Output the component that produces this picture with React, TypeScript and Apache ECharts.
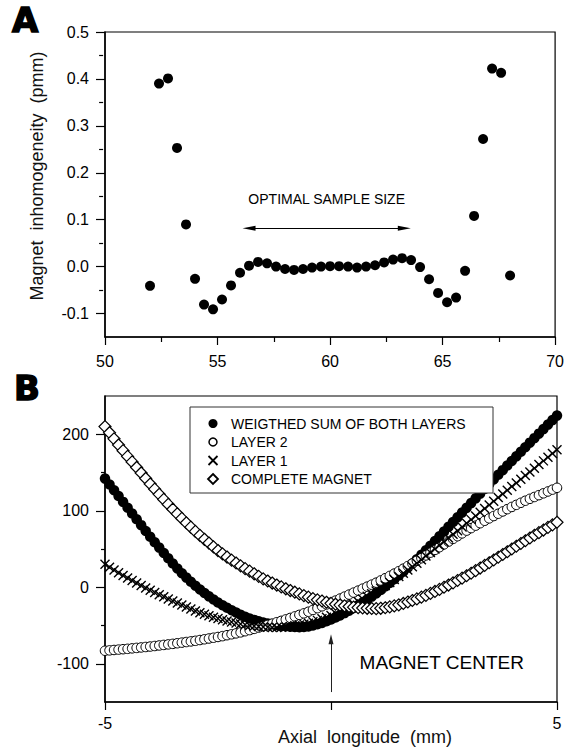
import React, { useEffect, useRef } from "react";
import * as echarts from "echarts";

const FONT = "'Liberation Sans', Arial, Helvetica, sans-serif";

// ---------- Panel A ----------
const posA = [
  52.0, 52.4, 52.8, 53.2, 53.6, 54.0, 54.4, 54.8, 55.2, 55.6, 56.0, 56.4, 56.8, 57.2,
  57.6, 58.0, 58.4, 58.8, 59.2, 59.6, 60.0, 60.4, 60.8, 61.2, 61.6, 62.0, 62.4, 62.8,
  63.2, 63.6, 64.0, 64.4, 64.8, 65.2, 65.6, 66.0, 66.4, 66.8, 67.2, 67.6, 68.0,
];
const inhomA = [
  -0.041, 0.39, 0.401, 0.253, 0.09, -0.026, -0.081, -0.091, -0.07, -0.04, -0.013, 0.002,
  0.01, 0.007, 0.0, -0.005, -0.007, -0.005, -0.002, 0.0, 0.001, 0.001, 0.0, -0.002, 0.0,
  0.003, 0.009, 0.015, 0.018, 0.014, -0.001, -0.027, -0.056, -0.076, -0.066, -0.009,
  0.108, 0.272, 0.422, 0.413, -0.019,
];
const ticksA = [-0.1, 0, 0.1, 0.2, 0.3, 0.4, 0.5];
const minorTicksA = [-0.05, 0.05, 0.15, 0.25, 0.35, 0.45];
const optimalRange = [56.4, 63.3];
const optimalY = 0.082;

// ---------- Panel B ----------
const posB = [
  -5.0, -4.9, -4.8, -4.7, -4.6, -4.5, -4.4, -4.3, -4.2, -4.1, -4.0, -3.9, -3.8, -3.7, -3.6,
  -3.5, -3.4, -3.3, -3.2, -3.1, -3.0, -2.9, -2.8, -2.7, -2.6, -2.5, -2.4, -2.3, -2.2, -2.1,
  -2.0, -1.9, -1.8, -1.7, -1.6, -1.5, -1.4, -1.3, -1.2, -1.1, -1.0, -0.9, -0.8, -0.7, -0.6,
  -0.5, -0.4, -0.3, -0.2, -0.1, 0.0, 0.1, 0.2, 0.3, 0.4, 0.5, 0.6, 0.7, 0.8, 0.9, 1.0, 1.1,
  1.2, 1.3, 1.4, 1.5, 1.6, 1.7, 1.8, 1.9, 2.0, 2.1, 2.2, 2.3, 2.4, 2.5, 2.6, 2.7, 2.8, 2.9,
  3.0, 3.1, 3.2, 3.3, 3.4, 3.5, 3.6, 3.7, 3.8, 3.9, 4.0, 4.1, 4.2, 4.3, 4.4, 4.5, 4.6, 4.7,
  4.8, 4.9, 5.0,
];
const weighted = [
  142, 134.4, 126.8, 119.2, 111.6, 104, 96.4, 88.8, 81.2, 73.6, 66, 58.8, 51.8, 44.8, 37.9,
  31, 24.6, 18.4, 12.6, 7.1, 2, -2.9, -7.5, -11.9, -16, -20, -23.5, -26.8, -30, -33.1, -36,
  -38.6, -40.8, -42.7, -44.5, -46, -47.3, -48.5, -49.5, -50.3, -51, -51.6, -52, -52.2,
  -51.9, -51.2, -50, -48.4, -46.6, -44.5, -42.2, -39.6, -36.8, -33.8, -30.6, -27.2, -23.7,
  -20, -16.2, -12.2, -8, -3.6, 0.9, 5.6, 10.4, 15.3, 20.4, 25.7, 31.1, 36.7, 42.4, 48.3,
  54.3, 60.4, 66.6, 72.8, 79, 85.2, 91.4, 97.6, 103.8, 110, 116.2, 122.4, 128.6, 134.8,
  140.9, 147, 153.1, 159.1, 165.1, 171.1, 177.1, 183.1, 189, 194.9, 200.8, 206.7, 212.6,
  218.5, 224.4,
];
const layer2 = [
  -83, -82.5, -82, -81.5, -81, -80.5, -79.9, -79.3, -78.7, -78.1, -77.5, -76.8, -76.1,
  -75.4, -74.7, -74, -73.2, -72.4, -71.6, -70.8, -70, -69, -68, -67, -66, -65, -63.9,
  -62.7, -61.5, -60.3, -59, -57.5, -56, -54.4, -52.7, -51, -49.3, -47.5, -45.7, -43.9, -42,
  -40.1, -38.1, -36.1, -34.1, -32, -29.7, -27.3, -24.9, -22.5, -20, -17.4, -14.8, -12.2,
  -9.6, -7, -4.4, -1.8, 0.8, 3.4, 6, 8.9, 11.8, 14.8, 17.9, 21, 24.3, 27.7, 31.1, 34.5, 38,
  41.6, 45.2, 48.8, 52.4, 56, 59.6, 63.2, 66.8, 70.4, 74, 77.3, 80.5, 83.7, 86.9, 90, 93.1,
  96.1, 99.1, 102.1, 105, 107.7, 110.4, 113.1, 115.6, 118, 120.4, 122.8, 125.2, 127.6, 130,
];
const layer1 = [
  30, 26.3, 22.6, 19, 15.5, 12, 8.7, 5.4, 2.2, -0.9, -4, -6.9, -9.7, -12.5, -15.3, -18,
  -20.7, -23.3, -25.9, -28.5, -31, -33.2, -35.3, -37.3, -39.2, -41, -42.6, -44.1, -45.5,
  -46.8, -48, -49.1, -50, -50.8, -51.4, -52, -52.4, -52.6, -52.6, -52.4, -52, -51.3, -50.4,
  -49.3, -48.2, -47, -45.2, -43.3, -41.3, -39.2, -37, -34.1, -31.1, -28.1, -25.1, -22,
  -18.7, -15.3, -11.9, -8.5, -5, -1.3, 2.4, 6.2, 10.1, 14, 18.2, 22.5, 26.9, 31.4, 36,
  40.7, 45.3, 50, 54.8, 59.6, 64.4, 69.2, 74, 78.8, 83.6, 88.4, 93.2, 98, 102.8, 107.6,
  112.4, 117.2, 122, 126.8, 131.6, 136.4, 141.2, 146, 150.8, 155.6, 160.4, 165.2, 170,
  174.8, 179.6,
];
const complete = [
  210, 202, 194, 186, 178.5, 171, 163.8, 156.6, 149.4, 142.2, 135, 128.2, 121.5, 114.8,
  108.3, 102, 96, 90, 84.2, 78.5, 73, 67.8, 62.7, 57.8, 52.8, 48, 43.7, 39.5, 35.5, 31.7,
  28, 24.4, 21, 17.6, 14.3, 11, 8.2, 5.5, 2.9, 0.4, -2, -4.3, -6.5, -8.7, -10.9, -13, -14.8,
  -16.5, -18, -19.6, -21, -22.2, -23.3, -24.3, -25.2, -26, -26.6, -27.1, -27.5, -27.8, -28,
  -27.5, -26.8, -25.6, -24.4, -23, -21.2, -19.3, -17.3, -15.2, -13, -10.6, -8.1, -5.5,
  -2.8, 0, 2.9, 5.8, 8.8, 11.9, 15, 18.3, 21.7, 25.1, 28.5, 32, 35.6, 39.2, 42.8, 46.4, 50,
  53.6, 57.2, 60.8, 64.4, 68, 71.4, 74.8, 78.2, 81.6, 85,
];
const ticksB = [-100, 0, 100, 200];
const minorTicksB = [-50, 50, 150];
const centerArrow = [-137, -68];
const centerLabel = [2.45, -98];

const legendNames = [
  "WEIGTHED SUM OF BOTH LAYERS",
  "LAYER 2",
  "LAYER 1",
  "COMPLETE MAGNET",
];

const zip = (xs: number[], ys: number[]) => xs.map((x, i) => [x, ys[i]]);

const CROSS = "path://M0,0L10,10M10,0L0,10";
const GRID_W = 452;

function buildOption(): any {
  const axisLine = { onZero: false, lineStyle: { color: "#000", width: 1.5 } };
  const tickStyle = { color: "#000", width: 1.2 };
  const labelStyle = { color: "#000", fontSize: 16, fontFamily: FONT };

  const legX = 190;
  const legY = 407;
  const rowY = [423.5, 442, 460.5, 479];
  const symX = 213;
  const textX = 231;

  // minor-tick axis: placed on the right side, shifted back onto the left edge,
  // with ticks pointing "inside" (i.e. to the left of the plot box)
  const minorAxis = (gridIndex: number, min: number, max: number, values: number[]) => ({
    gridIndex, type: "value", min, max, position: "right", offset: -GRID_W,
    axisLine: { show: false, onZero: false },
    axisTick: { length: 4, inside: true, lineStyle: tickStyle, customValues: values },
    axisLabel: { show: false }, splitLine: { show: false },
  });

  return {
    animation: false,
    backgroundColor: "#fff",
    grid: [
      { left: 105, top: 32, width: GRID_W, height: 305, show: true, borderColor: "#000", borderWidth: 1.2 },
      { left: 105, top: 396, width: GRID_W, height: 306, show: true, borderColor: "#000", borderWidth: 1.2 },
    ],
    xAxis: [
      {
        gridIndex: 0, type: "value", min: 50, max: 70, interval: 5,
        axisLine, axisTick: { length: 8, lineStyle: tickStyle },
        minorTick: { show: true, splitNumber: 2, length: 5, lineStyle: tickStyle },
        axisLabel: { ...labelStyle, margin: 16, showMinLabel: true, showMaxLabel: true },
        splitLine: { show: false }, minorSplitLine: { show: false },
      },
      {
        gridIndex: 1, type: "value", min: -5, max: 5, interval: 5,
        axisLine, axisTick: { length: 8, lineStyle: tickStyle },
        axisLabel: {
          ...labelStyle, margin: 13, showMinLabel: true, showMaxLabel: true,
          formatter: (v: number) => (v === 0 ? "" : String(v)),
        },
        splitLine: { show: false },
      },
    ],
    yAxis: [
      {
        gridIndex: 0, type: "value", min: -0.15, max: 0.5, position: "left",
        axisLine, axisTick: { length: 9, lineStyle: tickStyle, customValues: ticksA },
        axisLabel: {
          ...labelStyle, margin: 16, customValues: ticksA,
          formatter: (v: number) => Number(v).toFixed(1),
        },
        splitLine: { show: false },
      },
      minorAxis(0, -0.15, 0.5, minorTicksA),
      {
        gridIndex: 1, type: "value", min: -150, max: 250, position: "left",
        axisLine, axisTick: { length: 9, lineStyle: tickStyle, customValues: ticksB },
        axisLabel: { ...labelStyle, margin: 16, customValues: ticksB },
        splitLine: { show: false },
      },
      minorAxis(1, -150, 250, minorTicksB),
    ],
    series: [
      {
        type: "scatter", xAxisIndex: 0, yAxisIndex: 0, data: zip(posA, inhomA),
        symbol: "circle", symbolSize: 10, itemStyle: { color: "#000", opacity: 1 }, silent: true,
        markLine: {
          silent: true, symbol: ["triangle", "triangle"], symbolSize: [5, 13],
          lineStyle: { color: "#000", width: 1, type: "solid" }, label: { show: false },
          data: [[{ coord: [optimalRange[0], optimalY] }, { coord: [optimalRange[1], optimalY] }]],
        },
        markPoint: {
          silent: true, symbol: "circle", symbolSize: 0,
          label: {
            show: true, position: "inside", formatter: "OPTIMAL SAMPLE SIZE",
            color: "#000", fontSize: 14, fontFamily: FONT,
          },
          data: [{ coord: [59.85, 0.145] }],
        },
      },
      {
        type: "scatter", xAxisIndex: 1, yAxisIndex: 2, data: zip(posB, weighted),
        symbol: "circle", symbolSize: 10.5, itemStyle: { color: "#000", opacity: 1 }, silent: true,
        name: legendNames[0],
      },
      {
        type: "scatter", xAxisIndex: 1, yAxisIndex: 2, data: zip(posB, layer2),
        symbol: "circle", symbolSize: 9.5, silent: true, name: legendNames[1],
        itemStyle: { color: "#fff", borderColor: "#000", borderWidth: 1, opacity: 1 },
      },
      {
        type: "scatter", xAxisIndex: 1, yAxisIndex: 2, data: zip(posB, layer1),
        symbol: CROSS, symbolSize: 9, silent: true, name: legendNames[2],
        itemStyle: { color: "none", borderColor: "#000", borderWidth: 1.4, opacity: 1 },
      },
      {
        type: "scatter", xAxisIndex: 1, yAxisIndex: 2, data: zip(posB, complete),
        symbol: "diamond", symbolSize: 12, silent: true, name: legendNames[3],
        itemStyle: { color: "#fff", borderColor: "#000", borderWidth: 1.2, opacity: 1 },
        markLine: {
          silent: true, symbol: ["none", "triangle"], symbolSize: [5, 10],
          lineStyle: { color: "#222", width: 1, type: "solid" }, label: { show: false },
          data: [[{ coord: [0, centerArrow[0]] }, { coord: [0, centerArrow[1]] }]],
        },
        markPoint: {
          silent: true, symbol: "circle", symbolSize: 0,
          label: {
            show: true, position: "inside", formatter: "MAGNET CENTER",
            color: "#000", fontSize: 19, fontFamily: FONT,
          },
          data: [{ coord: centerLabel }],
        },
      },
    ],
    graphic: [
      {
        type: "text", x: 12, y: 20, z: 100,
        style: {
          text: "A", fontSize: 34, fontWeight: "bold", fontFamily: "'DejaVu Sans', sans-serif",
          fill: "#000", stroke: "#000", lineWidth: 1.5, align: "left", verticalAlign: "middle",
        },
      },
      {
        type: "text", x: 14, y: 388, z: 100,
        style: {
          text: "B", fontSize: 34, fontWeight: "bold", fontFamily: "'DejaVu Sans', sans-serif",
          fill: "#000", stroke: "#000", lineWidth: 1.5, align: "left", verticalAlign: "middle",
        },
      },
      {
        type: "text", x: 37, y: 176, rotation: Math.PI / 2, z: 100,
        style: {
          text: "Magnet\u00a0 inhomogeneity\u00a0 (pmm)", fontSize: 18, fontFamily: FONT,
          fill: "#111", align: "center", verticalAlign: "middle",
        },
      },
      {
        type: "text", x: 365, y: 737, z: 100,
        style: {
          text: "Axial\u00a0 longitude\u00a0 (mm)", fontSize: 18, fontFamily: FONT,
          fill: "#111", align: "center", verticalAlign: "middle",
        },
      },
      {
        type: "rect", z: 100,
        shape: { x: legX, y: legY, width: 303, height: 86 },
        style: { fill: "#fff", stroke: "#333", lineWidth: 1 },
      },
      {
        type: "circle", z: 101, shape: { cx: symX, cy: rowY[0], r: 4.5 },
        style: { fill: "#000" },
      },
      {
        type: "circle", z: 101, shape: { cx: symX, cy: rowY[1], r: 4 },
        style: { fill: "#fff", stroke: "#000", lineWidth: 1.5 },
      },
      {
        type: "line", z: 101, shape: { x1: symX - 4.5, y1: rowY[2] - 4.5, x2: symX + 4.5, y2: rowY[2] + 4.5 },
        style: { stroke: "#000", lineWidth: 1.8 },
      },
      {
        type: "line", z: 101, shape: { x1: symX + 4.5, y1: rowY[2] - 4.5, x2: symX - 4.5, y2: rowY[2] + 4.5 },
        style: { stroke: "#000", lineWidth: 1.8 },
      },
      {
        type: "polygon", z: 101,
        shape: { points: [[symX, rowY[3] - 5], [symX + 5, rowY[3]], [symX, rowY[3] + 5], [symX - 5, rowY[3]]] },
        style: { fill: "#fff", stroke: "#000", lineWidth: 1.8 },
      },
      ...legendNames.map((name, i) => ({
        type: "text", x: textX, y: rowY[i], z: 101,
        style: {
          text: name, fontSize: 14, fontFamily: FONT, fill: "#000",
          align: "left", verticalAlign: "middle",
        },
      })),
    ],
  };
}

export default function App() {
  const ref = useRef<HTMLDivElement>(null);
  useEffect(() => {
    if (!ref.current) return;
    const chart = echarts.init(ref.current, undefined, { renderer: "svg" });
    chart.setOption(buildOption());
    return () => chart.dispose();
  }, []);
  return (
    <div
      ref={ref}
      style={{ position: "fixed", left: 0, top: 0, width: 567, height: 750, background: "#fff" }}
    />
  );
}
